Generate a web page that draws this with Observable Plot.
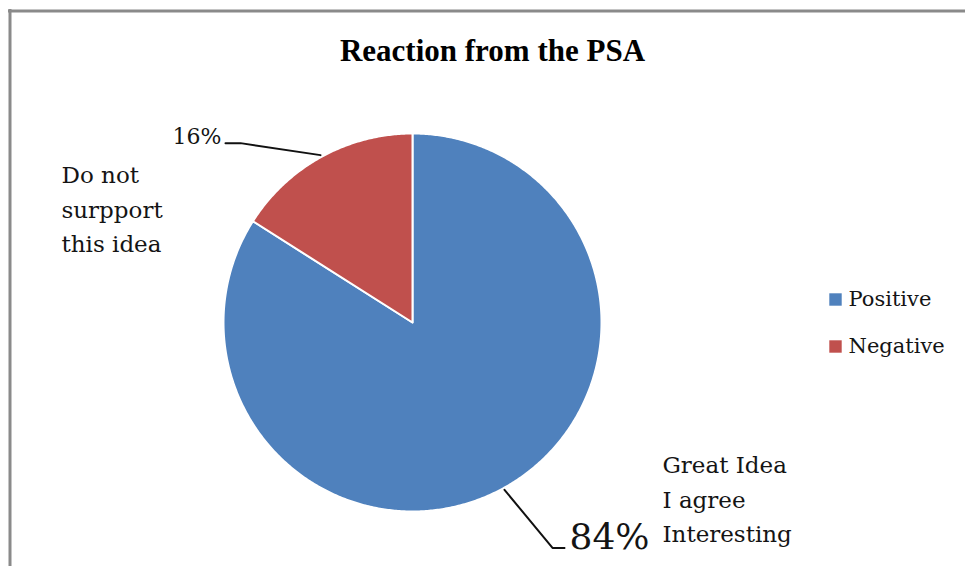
<!DOCTYPE html>
<html>
<head>
<meta charset="utf-8">
<script src="https://cdn.jsdelivr.net/npm/d3@7"></script>
<script src="https://cdn.jsdelivr.net/npm/@observablehq/plot@0.6"></script>
<style>
  html, body { margin: 0; padding: 0; background: #fff; }
  #chart svg { display: block; }
</style>
</head>
<body>
<div id="chart"></div>
<script>
// Survey result: reaction to the PSA
const categories = ["Positive", "Negative"];
const shares = [84, 16];
const percentLabels = ["84%", "16%"];
const comments = ["Great Idea\nI agree\nInteresting", "Do not\nsurpport\nthis idea"];
const colors = ["#4F81BD", "#C0504D"];
const title = "Reaction from the PSA";

const W = 965, H = 566;
const cx = 412, cy = 322, R = 189;

// Slice angles, clockwise from 12 o'clock
const arcs = d3.pie().sort(null).value(d => d)(shares);

const polar = (a, r) => [cx + r * Math.sin(a), cy - r * Math.cos(a)];

// Polygon outline for each slice (center, arc, back to center)
const slicePts = [];
arcs.forEach((a, i) => {
  const n = Math.max(4, Math.ceil((a.endAngle - a.startAngle) / (Math.PI / 360)));
  slicePts.push({cat: categories[i], x: cx, y: cy});
  for (let k = 0; k <= n; k++) {
    const t = a.startAngle + (a.endAngle - a.startAngle) * k / n;
    const [x, y] = polar(t, R);
    slicePts.push({cat: categories[i], x, y});
  }
  slicePts.push({cat: categories[i], x: cx, y: cy});
});

// Leader lines from each slice's mid-angle to its percentage label
const mid = arcs.map(a => (a.startAngle + a.endAngle) / 2);
const leaderBends = [
  [[48, 58], [60, 58]],     // Positive: down-right then flat
  [[-80, -12], [-95, -12]]  // Negative: up-left then flat
];
const leaders = [];
arcs.forEach((a, i) => {
  const [x0, y0] = polar(mid[i], R + 2);
  leaders.push({cat: categories[i], x: x0, y: y0});
  leaderBends[i].forEach(([dx, dy]) => leaders.push({cat: categories[i], x: x0 + dx, y: y0 + dy}));
});
const leaderEnd = i => leaders.filter(d => d.cat === categories[i]).slice(-1)[0];

const posEnd = leaderEnd(0), negEnd = leaderEnd(1);
const pctLabels = [
  {text: percentLabels[0], x: posEnd.x + 5, y: posEnd.y + 1, anchor: "start"},
  {text: percentLabels[1], x: negEnd.x - 4, y: negEnd.y + 1, anchor: "end"}
];
const commentLabels = [
  {text: comments[0], x: 662, y: 496},
  {text: comments[1], x: 61, y: 206}
];
const legend = categories.map((c, i) => ({cat: c, x: 835, y: 299 + i * 47}));

const serif = "DejaVu Serif";
const ink = "#141414";

const chart = Plot.plot({
  width: W,
  height: H,
  margin: 0,
  x: {domain: [0, W], range: [0, W], axis: null},
  y: {domain: [0, H], range: [0, H], axis: null},
  color: {domain: categories, range: colors},
  style: {fontFamily: serif, background: "#fff"},
  marks: [
    // chart border (top and left)
    Plot.ruleY([10.5], {x1: 8, x2: W, stroke: "#8a8a8a", strokeWidth: 3}),
    Plot.ruleX([9.5], {y1: 9, y2: H, stroke: "#8a8a8a", strokeWidth: 3}),
    // pie slices
    Plot.line(slicePts, {x: "x", y: "y", z: "cat", fill: "cat", stroke: "white", strokeWidth: 2, strokeLinejoin: "round"}),
    // leaders
    Plot.line(leaders, {x: "x", y: "y", z: "cat", stroke: "#111", strokeWidth: 2}),
    // percentage labels
    Plot.text(pctLabels.filter(d => d.anchor === "start"), {x: "x", y: "y", text: "text", fontSize: 36, textAnchor: "start", lineAnchor: "bottom", fill: ink}),
    Plot.text(pctLabels.filter(d => d.anchor === "end"), {x: "x", y: "y", text: "text", fontSize: 22, textAnchor: "end", lineAnchor: "bottom", fill: ink}),
    // comment labels
    Plot.text(commentLabels, {x: "x", y: "y", text: "text", fontSize: 23, textAnchor: "start", lineAnchor: "middle", lineHeight: 1.5, fill: ink}),
    // title
    Plot.text([title], {x: 492, y: 51, text: d => d, fontSize: 31, fontWeight: "bold", fontFamily: "Liberation Serif", fill: "#000"}),
    // legend
    Plot.dot(legend, {x: "x", y: "y", symbol: "square", r: 7, fill: "cat"}),
    Plot.text(legend, {x: d => d.x + 13, y: "y", text: "cat", fontSize: 21, textAnchor: "start", fill: ink})
  ]
});

document.getElementById("chart").append(chart);
</script>
</body>
</html>
